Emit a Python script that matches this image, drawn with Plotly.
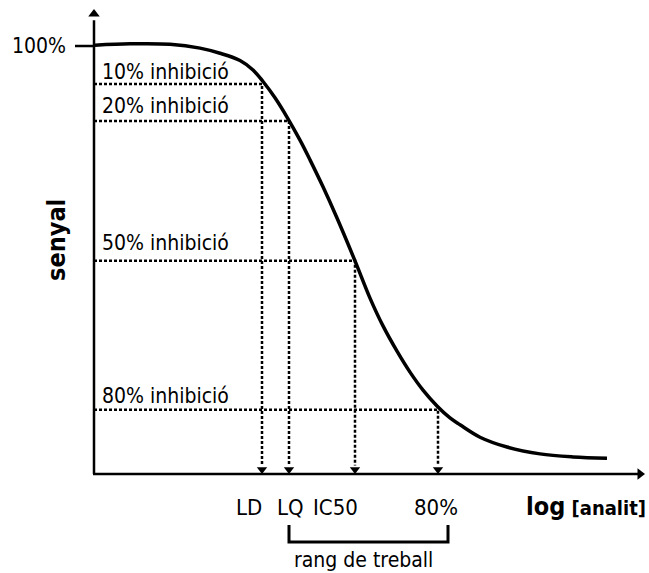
import plotly.graph_objects as go

# ---- data (x: log concentration, arbitrary units; y: signal %) ----
curve_x = [0.02, 0.72, 1.52, 2.12, 2.52, 2.92, 3.18, 3.38, 3.62, 3.86, 4.12, 4.32, 4.58, 4.86,
           5.22, 5.52, 5.78, 6.06, 6.32, 6.58, 6.86, 7.12, 7.32, 7.72, 8.26, 8.92, 9.58, 10.26]
curve_y = [100.2, 100.5, 100.4, 99.5, 98.3, 96.6, 94.4, 91.7, 87.9, 83.4, 78.0, 73.4, 67.1, 59.8,
           49.8, 41.1, 34.6, 28.7, 23.8, 19.6, 15.9, 13.1, 11.5, 8.6, 6.3, 4.7, 4.0, 3.7]

level_signal = [91.1, 82.5, 49.8, 15.0]           # signal at 10/20/50/80 % inhibition
level_x = [3.36, 3.90, 5.22, 6.88]                # log[analit] at those levels
level_labels = ["10% inhibició", "20% inhibició", "50% inhibició", "80% inhibició"]
level_label_y = [93.9, 86.0, 54.0, 18.2]

tick_labels = ["LD", "LQ", "IC50", "80%"]
tick_label_x = [3.10, 3.92, 4.82, 6.84]

range_x = [3.90, 7.08]                            # "rang de treball"

FONT = "DejaVu Sans Condensed, Liberation Sans Narrow, sans-serif"

fig = go.Figure()

# axes
fig.add_trace(go.Scatter(x=[0, 0], y=[0, 106], mode="lines", line=dict(color="black", width=2.5), hoverinfo="skip"))
fig.add_trace(go.Scatter(x=[-0.02, 10.9], y=[0, 0], mode="lines", line=dict(color="black", width=2.5), hoverinfo="skip"))
fig.add_trace(go.Scatter(x=[0], y=[107.5], mode="markers", marker=dict(symbol="triangle-up", size=10, color="black"), hoverinfo="skip"))
fig.add_trace(go.Scatter(x=[10.92], y=[0], mode="markers", marker=dict(symbol="triangle-right", size=10, color="black"), hoverinfo="skip"))
# 100% tick
fig.add_trace(go.Scatter(x=[-0.38, 0], y=[100, 100], mode="lines", line=dict(color="black", width=2.5), hoverinfo="skip"))

# dotted guide lines
for lx, ls in zip(level_x, level_signal):
    fig.add_trace(go.Scatter(x=[0, lx, lx], y=[ls, ls, 2.0], mode="lines",
                             line=dict(color="black", width=2.5, dash="3px,2px"), hoverinfo="skip"))
fig.add_trace(go.Scatter(x=level_x, y=[1.05] * len(level_x), mode="markers",
                         marker=dict(symbol="triangle-down", size=9, color="black"), hoverinfo="skip"))

# curve
fig.add_trace(go.Scatter(x=curve_x, y=curve_y, mode="lines",
                         line=dict(color="black", width=3.5, shape="spline", smoothing=1.0), hoverinfo="skip"))

# working range bracket
fig.add_trace(go.Scatter(x=[range_x[0], range_x[0], range_x[1], range_x[1]], y=[-11.9, -15.9, -15.9, -11.9],
                         mode="lines", line=dict(color="black", width=3), hoverinfo="skip"))

ann = []
for t, yy in zip(level_labels, level_label_y):
    ann.append(dict(x=0.12, y=yy, text=t, xanchor="left", yanchor="middle", showarrow=False,
                    font=dict(family=FONT, size=21, color="black")))
for t, xx in zip(tick_labels, tick_label_x):
    ann.append(dict(x=xx, y=-7.9, text=t, xanchor="center", yanchor="middle", showarrow=False,
                    font=dict(family=FONT, size=22, color="black")))
ann.append(dict(x=-0.52, y=100, text="100%", xanchor="right", yanchor="middle", showarrow=False,
                font=dict(family=FONT, size=21, color="black")))
ann.append(dict(x=11.08, y=-7.7, text="<b><span style='font-size:25px'>log</span> [analit]</b>", xanchor="right",
                yanchor="middle", showarrow=False, font=dict(family=FONT, size=20, color="black")))
ann.append(dict(x=(range_x[0] + range_x[1]) / 2 - 0.1, y=-20.2, text="rang de treball", xanchor="center",
                yanchor="middle", showarrow=False, font=dict(family=FONT, size=21, color="black")))
ann.append(dict(x=-0.74, y=54.7, text="<b>senyal</b>", textangle=-90, xanchor="center", yanchor="middle",
                showarrow=False, font=dict(family=FONT, size=25, color="black")))

fig.update_layout(
    width=649, height=573, autosize=False,
    margin=dict(l=0, r=0, t=0, b=0),
    paper_bgcolor="white", plot_bgcolor="white",
    showlegend=False,
    xaxis=dict(range=[-1.88, 11.1], visible=False, fixedrange=True),
    yaxis=dict(range=[-23.13, 110.75], visible=False, fixedrange=True),
    annotations=ann,
)

fig.write_html("out.html", config={"displayModeBar": False},
               post_script="document.body.style.margin='0';document.body.style.overflow='hidden';")
